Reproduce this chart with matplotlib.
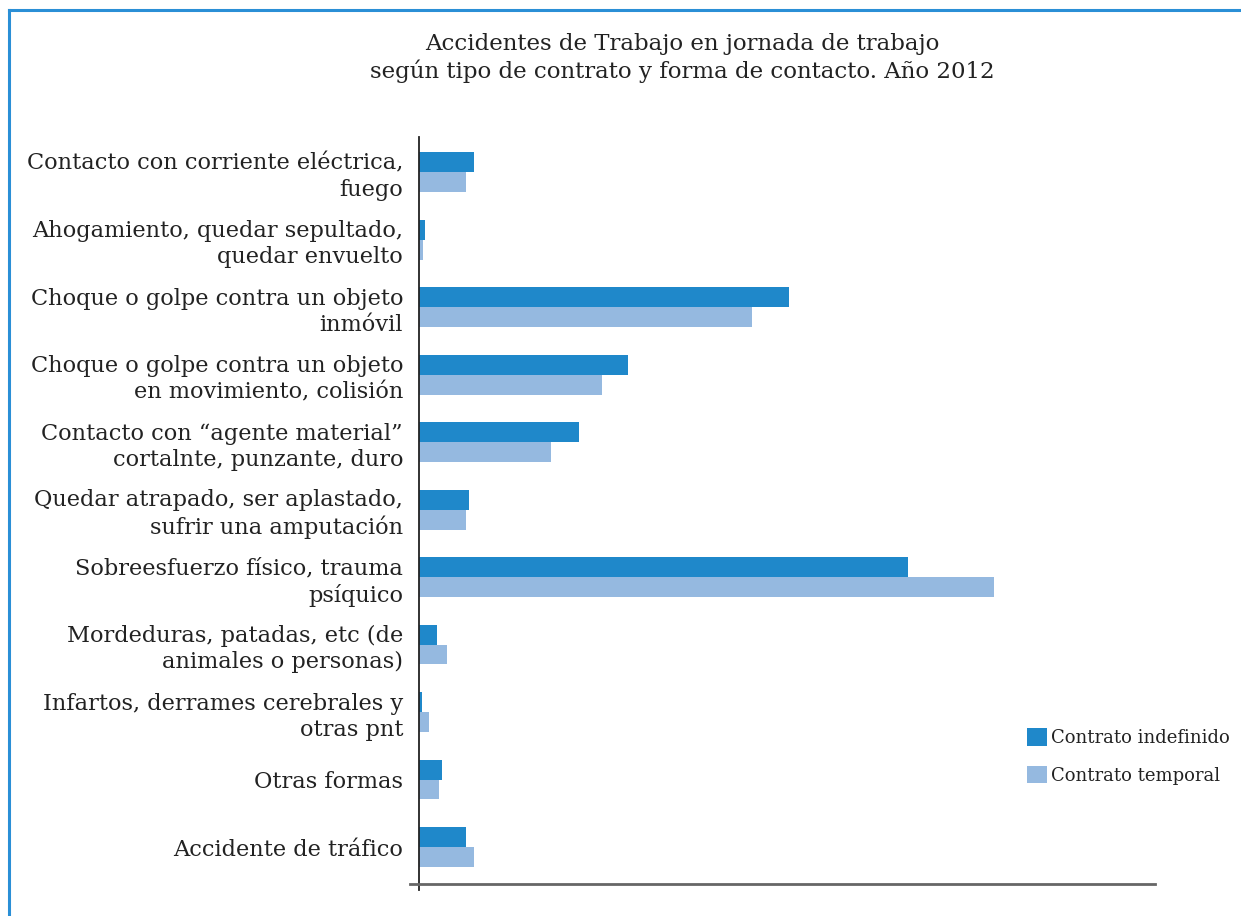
import matplotlib.pyplot as plt
from matplotlib.lines import Line2D
import numpy as np

categorias = [
    "Contacto con corriente eléctrica,\nfuego",
    "Ahogamiento, quedar sepultado,\nquedar envuelto",
    "Choque o golpe contra un objeto\ninmóvil",
    "Choque o golpe contra un objeto\nen movimiento, colisión",
    "Contacto con \u201cagente material\u201d\ncortalnte, punzante, duro",
    "Quedar atrapado, ser aplastado,\nsufrir una amputación",
    "Sobreesfuerzo físico, trauma\npsíquico",
    "Mordeduras, patadas, etc (de\nanimales o personas)",
    "Infartos, derrames cerebrales y\notras pnt",
    "Otras formas",
    "Accidente de tráfico",
]
indefinido = [55, 6, 370, 209, 160, 50, 489, 18, 3, 23, 47]
temporal = [47, 4, 333, 183, 132, 47, 575, 28, 10, 20, 55]

c_indef = "#1f88ca"
c_temp = "#95b9e0"
W, H = 1241, 916

fig = plt.figure(figsize=(W / 100, H / 100), dpi=100)
plt.rcParams["font.family"] = "DejaVu Serif"

ax = fig.add_axes([410 / W, 1 - 884 / H, 745 / W, 747 / H])
y = np.arange(len(categorias))
h = 0.296
ax.barh(y - h / 2, indefinido, height=h, color=c_indef, label="Contrato indefinido")
ax.barh(y + h / 2, temporal, height=h, color=c_temp, label="Contrato temporal")
ax.set_xlim(-9, 736)
ax.set_ylim(10.548, -0.519)

for s in ["top", "right", "left"]:
    ax.spines[s].set_visible(False)
ax.spines["bottom"].set_color("#666666")
ax.spines["bottom"].set_linewidth(2)
ax.set_xticks([])
ax.axvline(0, ymin=-0.008, ymax=1, color="#222222", lw=1.3, clip_on=False)

ax.set_yticks(y)
ax.set_yticklabels(categorias, fontsize=16.2, color="#222222", linespacing=1.25)
ax.tick_params(axis="y", length=0, pad=5)
for lab in ax.get_yticklabels():
    lab.set_horizontalalignment("right")

fig.text(682 / W, 1 - 58 / H,
         "Accidentes de Trabajo en jornada de trabajo\nsegún tipo de contrato y forma de contacto. Año 2012",
         ha="center", va="center", fontsize=16.5, color="#222222", linespacing=1.2)

leg = fig.legend(loc="upper left", bbox_to_anchor=(1011 / W, 1 - 712 / H), frameon=False,
                 fontsize=13, handlelength=1.1, handleheight=1.1, handletextpad=0.2,
                 labelspacing=1.05, labelcolor="#222222")

# blue frame at left and top
fig.add_artist(Line2D([9 / W, 9 / W], [0, 1 - 10 / H], color="#2a8fd6", lw=2.2, transform=fig.transFigure))
fig.add_artist(Line2D([9 / W, 1], [1 - 10 / H, 1 - 10 / H], color="#2a8fd6", lw=2.2, transform=fig.transFigure))

fig.savefig("out.png", dpi=100)
